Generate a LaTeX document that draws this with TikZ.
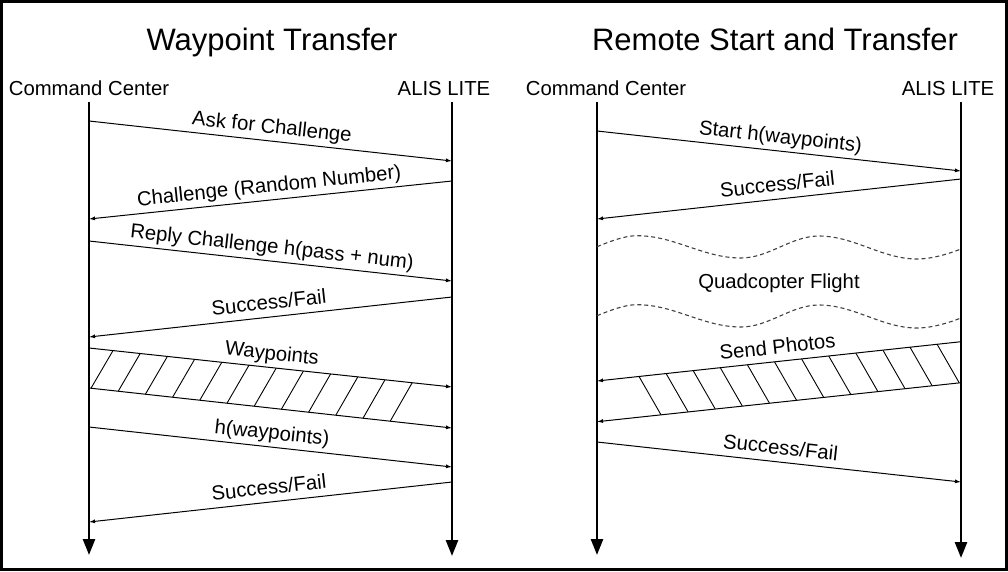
\documentclass[tikz,border=0pt]{standalone}
\usepackage{fontspec}
\setmainfont{Liberation Sans}
\usetikzlibrary{arrows.meta}
\begin{document}
\begin{tikzpicture}[x=1pt,y=-1pt,
  actor/.style={font=\fontsize{20.3}{24}\selectfont, anchor=base, inner sep=0pt},
  ttl/.style={font=\fontsize{31}{36}\selectfont, anchor=base, inner sep=0pt},
  life/.style={line width=2.6pt, -{Triangle[length=16pt,width=12pt]}},
  msg/.style={line width=1pt, -{Latex[length=6pt,width=4pt]}},
  bandline/.style={line width=1pt},
  hatch/.style={line width=0.9pt},
  lbl/.style={font=\fontsize{20.3}{24}\selectfont, sloped, above=1pt, inner sep=2pt, text height=14.6pt, text depth=4.2pt, pos=0.5},
  wave/.style={line width=1.1pt, dash pattern=on 4pt off 3pt, black!75},
  plain/.style={font=\fontsize{20.3}{24}\selectfont, inner sep=0pt}
]
\useasboundingbox (0,0) rectangle (1008,571);
\draw[line width=2.5pt] (1.5,1.5) rectangle (1006.5,569.5);

% ---------------- Left: Waypoint Transfer ----------------
\node[ttl] (t1) at (272,50) {Waypoint Transfer};
\node[actor] (cc1) at (89,95) {Command Center};
\node[actor] (al1) at (444,95) {ALIS LITE};
\coordinate (cc1t) at (89,102);  \coordinate (cc1b) at (89,555);
\coordinate (al1t) at (452,102); \coordinate (al1b) at (452,556);
\draw[life] (cc1t) -- (cc1b);
\draw[life] (al1t) -- (al1b);

\coordinate (a1s) at (89,121);  \coordinate (a1e) at (452,161);
\coordinate (a2s) at (452,181); \coordinate (a2e) at (89,219);
\coordinate (a3s) at (89,241);  \coordinate (a3e) at (452,281);
\coordinate (a4s) at (452,297); \coordinate (a4e) at (89,337);
\coordinate (a5s) at (89,348);  \coordinate (a5e) at (452,387);
\coordinate (a6s) at (89,388);  \coordinate (a6e) at (452,428);
\coordinate (a7s) at (89,427);  \coordinate (a7e) at (452,467);
\coordinate (a8s) at (452,482); \coordinate (a8e) at (89,522);

\draw[msg] (a1s) -- node[lbl] (l1) {Ask for Challenge} (a1e);
\draw[msg] (a2s) -- node[lbl] (l2) {Challenge (Random Number)} (a2e);
\draw[msg] (a3s) -- node[lbl] (l3) {Reply Challenge h(pass + num)} (a3e);
\draw[msg] (a4s) -- node[lbl] (l4) {Success/Fail} (a4e);
\draw[msg] (a5s) -- node[lbl] (l5) {Waypoints} (a5e);
\draw[msg] (a6s) -- (a6e);
\foreach \i in {0,...,11}{
  \pgfmathsetmacro{\xb}{91+27.2*\i}
  \pgfmathsetmacro{\yb}{388+40*(\xb-89)/363}
  \pgfmathsetmacro{\xt}{\xb+22}
  \pgfmathsetmacro{\yt}{348+39*(\xt-89)/363}
  \draw[hatch] (\xb,\yb) -- (\xt,\yt);
}
\draw[msg] (a7s) -- node[lbl] (l7) {h(waypoints)} (a7e);
\draw[msg] (a8s) -- node[lbl] (l8) {Success/Fail} (a8e);

% ---------------- Right: Remote Start and Transfer ----------------
\node[ttl] (t2) at (775,50) {Remote Start and Transfer};
\node[actor] (cc2) at (606,95) {Command Center};
\node[actor] (al2) at (948,95) {ALIS LITE};
\coordinate (cc2t) at (597,102); \coordinate (cc2b) at (597,555);
\coordinate (al2t) at (961,102); \coordinate (al2b) at (961,558);
\draw[life] (cc2t) -- (cc2b);
\draw[life] (al2t) -- (al2b);

\coordinate (b1s) at (597,131);   \coordinate (b1e) at (961,171);
\coordinate (b2s) at (961,179);   \coordinate (b2e) at (597,219);
\coordinate (b3s) at (961,341.7); \coordinate (b3e) at (597,381);
\coordinate (b4s) at (961,382.7); \coordinate (b4e) at (597,421.7);
\coordinate (b5s) at (597,442);   \coordinate (b5e) at (961,482);

\draw[msg] (b1s) -- node[lbl] (r1) {Start h(waypoints)} (b1e);
\draw[msg] (b2s) -- node[lbl] (r2) {Success/Fail} (b2e);

\foreach \dy in {0,69}{
  \draw[wave, shift={(0,\dy)}] (597,246.7) .. controls (610,241.5) and (624,235.7) .. (637,235.7)
     .. controls (675,235.7) and (703,258) .. (741,258)
     .. controls (769,258) and (791,236) .. (819,236)
     .. controls (854,236) and (882,259) .. (917,259)
     .. controls (932,259) and (948,254) .. (961,249);
}
\node[plain] (qf) at (779,283) {Quadcopter Flight};

\draw[msg] (b3s) -- node[lbl] (r3) {Send Photos} (b3e);
\draw[msg] (b4s) -- (b4e);
\foreach \i in {0,...,11}{
  \pgfmathsetmacro{\xb}{661+27.1*\i}
  \pgfmathsetmacro{\yb}{421.7-39.3*(\xb-597)/364}
  \pgfmathsetmacro{\xt}{\xb-22}
  \pgfmathsetmacro{\yt}{381-39.3*(\xt-597)/364}
  \draw[hatch] (\xb,\yb) -- (\xt,\yt);
}
\draw[msg] (b5s) -- node[lbl] (r5) {Success/Fail} (b5e);
\end{tikzpicture}
\end{document}
